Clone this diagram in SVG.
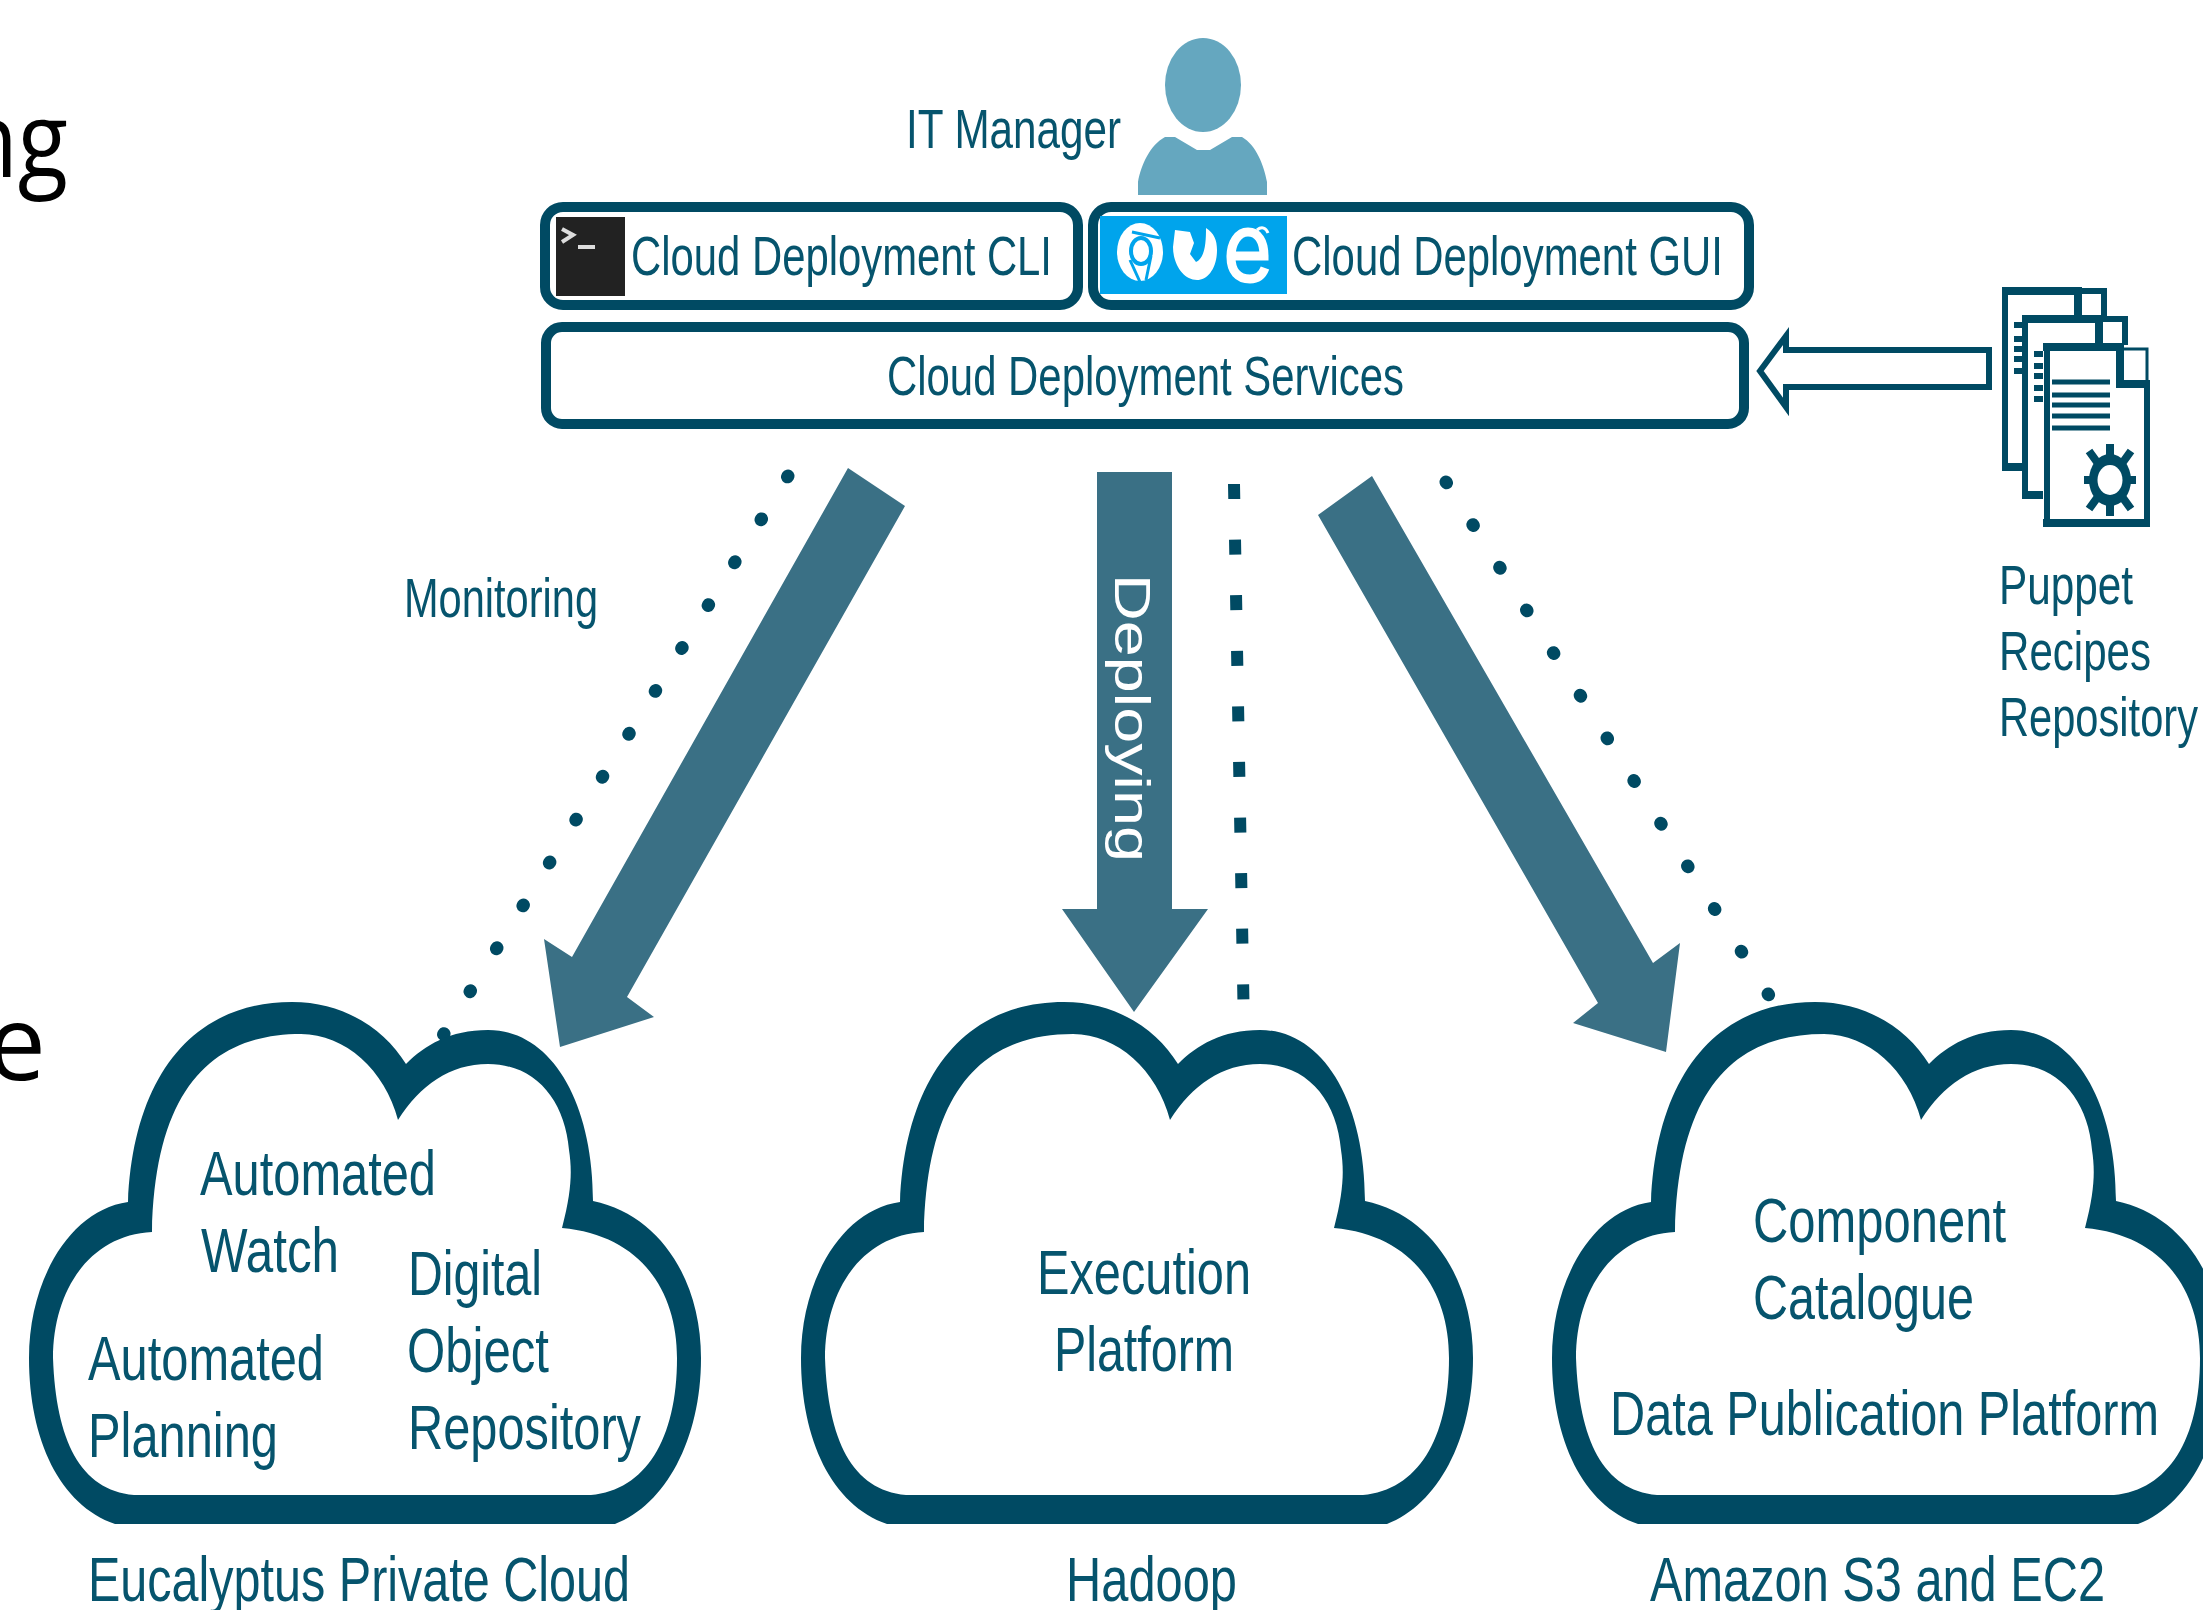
<svg xmlns="http://www.w3.org/2000/svg" xmlns:xlink="http://www.w3.org/1999/xlink" width="2203" height="1610" viewBox="0 0 2203 1610">
<style>
text{font-family:"Liberation Sans",Arial,sans-serif;fill:#06546d}
.s{font-size:56px}
.c{font-size:63px}
.b{fill:#fff;stroke:#004a63;stroke-width:10}
.cut{font-family:"Open Sans",sans-serif;font-size:105px;fill:#000}
.big{fill:#3a7085}
.dot{fill:none;stroke:#004a63;stroke-width:13;stroke-linecap:round}
.ln{fill:none;stroke:#004a63}
.page{fill:#fff;stroke:#004a63;stroke-width:6}
</style>
<defs>
<path id="cloud" fill="#004a63" fill-rule="evenodd" d="M115 1524H615C665 1505 701 1440 701 1358C701 1280 660 1215 593 1201C593 1100 550 1030 488 1030C450 1030 425 1045 406 1064C385 1030 345 1002 292 1002C190 1002 133 1080 128 1202C70 1210 29 1280 29 1358C29 1440 60 1505 115 1524ZM134 1495H591C645 1490 677 1440 677 1358C677 1290 640 1235 562 1228C572 1190 572 1170 569 1150C565 1100 535 1064 488 1064C450 1064 420 1085 398 1120C385 1070 345 1034 301 1034C215 1034 155 1085 152 1232C90 1235 53 1290 53 1358C56 1440 80 1490 134 1495Z"/>
</defs>
<rect width="2203" height="1610" fill="#fff"/>
<g id="cut-text">
<text class="cut" transform="translate(68 177) scale(.88 1)" text-anchor="end">ng</text>
<text class="cut" x="46" y="1080" text-anchor="end">e</text>
</g>
<g id="it-manager">
<text class="s" x="906" y="148" textLength="215" lengthAdjust="spacingAndGlyphs">IT Manager</text>
<ellipse cx="1203" cy="85" rx="38" ry="47" fill="#65a7bf"/>
<path fill="#65a7bf" d="M1138 195V182C1141 165 1150 145 1165 137H1175L1197 150H1210L1232 137H1242C1256 145 1264 165 1267 182V195Z"/>
</g>
<g id="cli">
<rect class="b" x="545" y="207" width="533" height="98" rx="18"/>
<rect x="556" y="217" width="69" height="79" fill="#222"/>
<path d="M562 229L573 235L562 242M578 247H595" fill="none" stroke="#ddd" stroke-width="4"/>
<text class="s" x="631" y="275" textLength="421" lengthAdjust="spacingAndGlyphs">Cloud Deployment CLI</text>
</g>
<g id="gui">
<rect class="b" x="1093" y="207" width="656" height="98" rx="18"/>
<rect x="1100" y="216" width="187" height="78" fill="#00a4ec"/>
<ellipse cx="1140" cy="252" rx="23" ry="29" fill="#fff"/>
<ellipse cx="1141" cy="251" rx="10" ry="13" fill="#fff" stroke="#00a4ec" stroke-width="4"/>
<path d="M1132 232L1160 238M1130 260L1140 282M1151 256L1146 280" stroke="#00a4ec" stroke-width="3" fill="none"/>
<path fill="#fff" d="M1175 230L1190 232L1194 243L1190 254L1196 262C1205 258 1206 243 1206 228C1214 233 1217 240 1217 250C1217 268 1208 280 1197 280C1184 280 1173 265 1173 247Z"/>
<path d="M1232 256H1264C1264 241 1258 232 1248 232C1238 232 1231 243 1231 257C1231 271 1238 279 1250 279C1257 279 1262 276 1265 268" fill="none" stroke="#fff" stroke-width="9"/>
<path d="M1257 230C1262 226 1266 228 1268 233" fill="none" stroke="#fff" stroke-width="3"/>
<text class="s" x="1292" y="275" textLength="431" lengthAdjust="spacingAndGlyphs">Cloud Deployment GUI</text>
</g>
<g id="services">
<rect class="b" x="546" y="327" width="1198" height="97" rx="16"/>
<text class="s" x="887" y="395" textLength="517" lengthAdjust="spacingAndGlyphs">Cloud Deployment Services</text>
</g>
<g id="puppet">
<path class="page" d="M2005 468V291H2079V291H2104V330"/>
<path class="ln" stroke-width="8" d="M2002 291H2082M2078 291V335M2002 467H2022"/>
<path class="ln" stroke-width="6" d="M2014 325H2022M2014 339H2022M2014 349H2022M2014 359H2022M2014 371H2022"/>
<path class="page" d="M2025 496V319H2125V345"/>
<path class="ln" stroke-width="8" d="M2022 319H2103M2099 319V345M2022 495H2043"/>
<path class="ln" stroke-width="6" d="M2034 354H2043M2034 366H2043M2034 376H2043M2034 388H2043M2034 399H2043"/>
<path class="page" d="M2047 346H2120V384H2147V523H2047Z"/>
<path class="ln" stroke-width="8" d="M2043 347H2124M2120 345V384H2150M2043 523H2150"/>
<path class="ln" stroke-width="3" d="M2120 349H2147V384"/>
<path class="ln" stroke-width="5" d="M2052 382H2110M2052 395H2110M2052 405H2110M2052 416H2110M2052 428H2110"/>
<g transform="translate(2110 480)">
<path class="ln" stroke-width="8" d="M0 -36V36M-26 0H26M-21 -29L21 29M-21 29L21 -29"/>
<ellipse cx="0" cy="0" rx="21" ry="26" fill="#004a63"/>
<ellipse cx="0" cy="0" rx="12.5" ry="15" fill="#fff"/>
</g>
<text class="s" x="1999" y="604" textLength="134" lengthAdjust="spacingAndGlyphs">Puppet</text>
<text class="s" x="1999" y="670" textLength="152" lengthAdjust="spacingAndGlyphs">Recipes</text>
<text class="s" x="1999" y="736" textLength="199" lengthAdjust="spacingAndGlyphs">Repository</text>
</g>
<g id="connectors">
<path d="M1760 371L1786 336V350H1989V387H1786V407Z" fill="#fff" stroke="#004a63" stroke-width="6"/>
<polygon class="big" points="848,468 905,506 627,997 654,1017 560,1047 544,939 572,957"/>
<polygon class="big" points="1097,472 1172,472 1172,909 1208,909 1134,1012 1062,909 1097,909"/>
<polygon class="big" points="1372,476 1318,515 1598,1003 1573,1023 1666,1052 1680,943 1653,963"/>
<path class="dot" stroke-dasharray="1 49.4" d="M788 476L442 1037"/>
<path d="M1234 484L1243.5 1004" fill="none" stroke="#004a63" stroke-width="12" stroke-dasharray="15 40.6"/>
<path class="dot" stroke-dasharray="1 49.4" d="M1446 482L1770 997"/>
<text transform="translate(1115 574) rotate(90)" font-size="50" style="fill:#fff" textLength="288" lengthAdjust="spacingAndGlyphs">Deploying</text>
<text class="s" x="404" y="617" textLength="194" lengthAdjust="spacingAndGlyphs">Monitoring</text>
</g>
<g id="cloud-eucalyptus">
<use href="#cloud"/>
<text class="c" x="200" y="1195" textLength="236" lengthAdjust="spacingAndGlyphs">Automated</text>
<text class="c" x="201" y="1272" textLength="138" lengthAdjust="spacingAndGlyphs">Watch</text>
<text class="c" x="408" y="1295" textLength="134" lengthAdjust="spacingAndGlyphs">Digital</text>
<text class="c" x="407" y="1372" textLength="142" lengthAdjust="spacingAndGlyphs">Object</text>
<text class="c" x="408" y="1449" textLength="233" lengthAdjust="spacingAndGlyphs">Repository</text>
<text class="c" x="88" y="1380" textLength="236" lengthAdjust="spacingAndGlyphs">Automated</text>
<text class="c" x="88" y="1457" textLength="190" lengthAdjust="spacingAndGlyphs">Planning</text>
<text class="c" x="88" y="1601" textLength="542" lengthAdjust="spacingAndGlyphs">Eucalyptus Private Cloud</text>
</g>
<g id="cloud-hadoop">
<use href="#cloud" x="772"/>
<text class="c" x="1037" y="1294" textLength="214" lengthAdjust="spacingAndGlyphs">Execution</text>
<text class="c" x="1054" y="1371" textLength="180" lengthAdjust="spacingAndGlyphs">Platform</text>
<text class="c" x="1066" y="1601" textLength="171" lengthAdjust="spacingAndGlyphs">Hadoop</text>
</g>
<g id="cloud-amazon">
<use href="#cloud" x="1523"/>
<text class="c" x="1753" y="1242" textLength="253" lengthAdjust="spacingAndGlyphs">Component</text>
<text class="c" x="1753" y="1319" textLength="221" lengthAdjust="spacingAndGlyphs">Catalogue</text>
<text class="c" x="1610" y="1435" textLength="549" lengthAdjust="spacingAndGlyphs">Data Publication Platform</text>
<text class="c" x="1650" y="1601" textLength="455" lengthAdjust="spacingAndGlyphs">Amazon S3 and EC2</text>
</g>
</svg>
